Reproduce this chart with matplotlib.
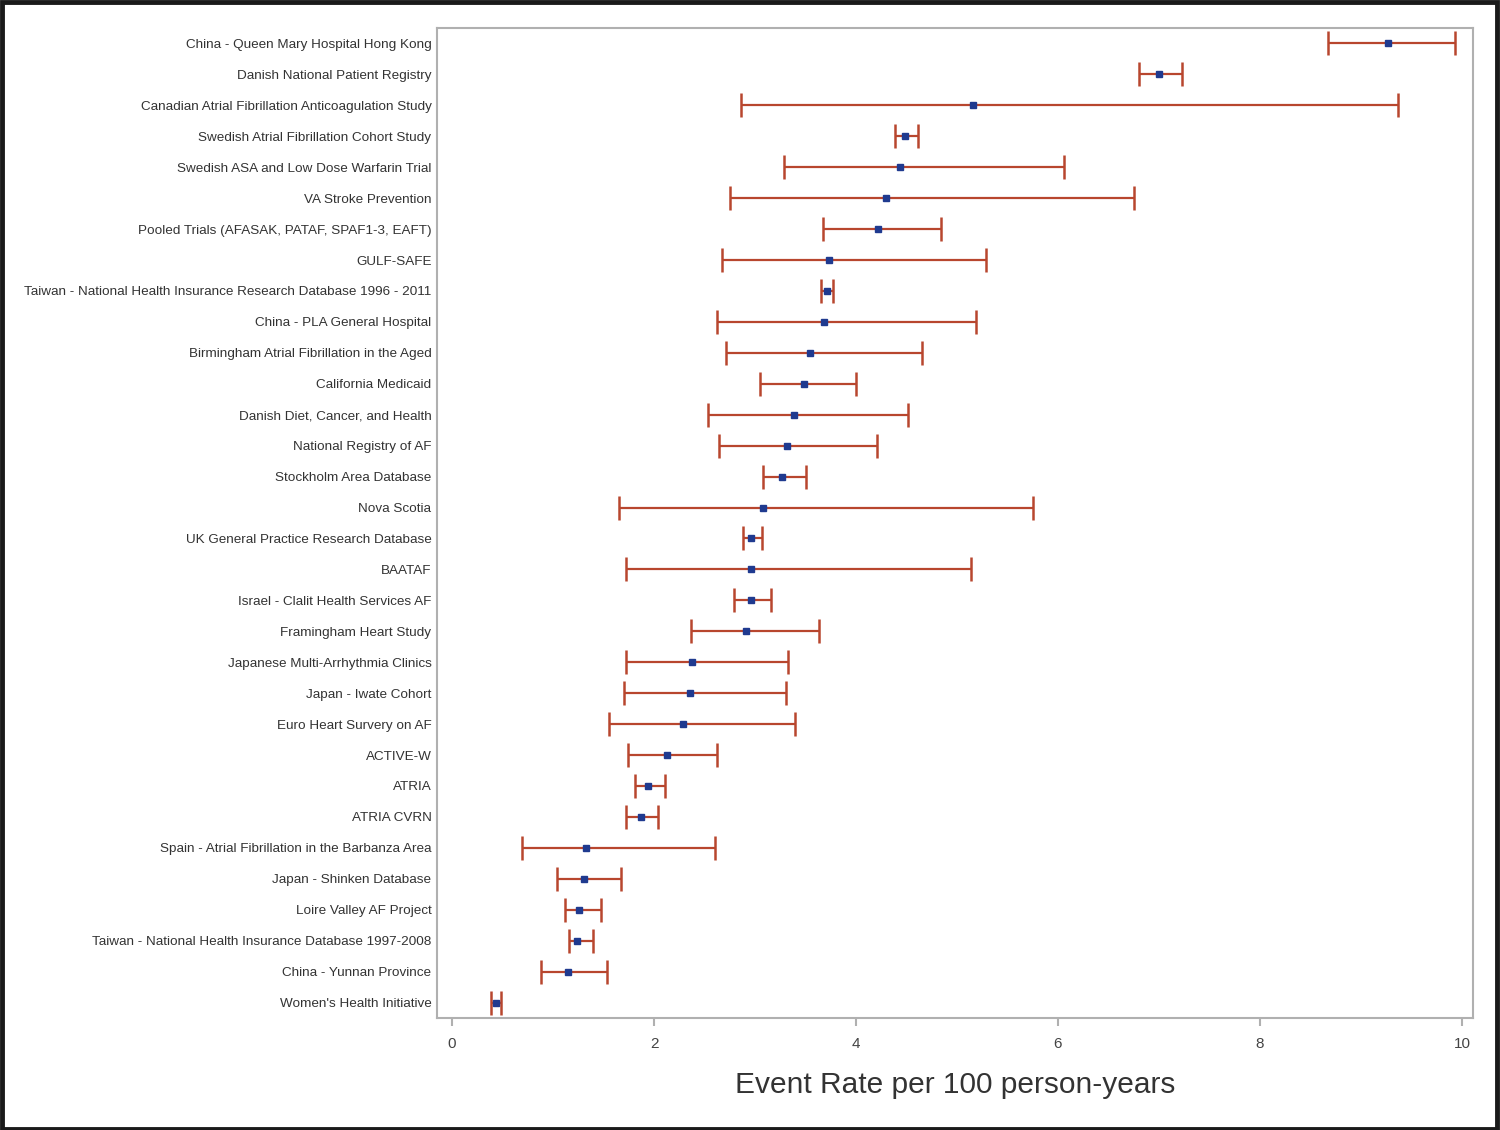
import matplotlib.pyplot as plt
from matplotlib.patches import Rectangle

# studies, top to bottom
studies = [
    "China - Queen Mary Hospital Hong Kong",
    "Danish National Patient Registry",
    "Canadian Atrial Fibrillation Anticoagulation Study",
    "Swedish Atrial Fibrillation Cohort Study",
    "Swedish ASA and Low Dose Warfarin Trial",
    "VA Stroke Prevention",
    "Pooled Trials (AFASAK, PATAF, SPAF1-3, EAFT)",
    "GULF-SAFE",
    "Taiwan - National Health Insurance Research Database 1996 - 2011",
    "China - PLA General Hospital",
    "Birmingham Atrial Fibrillation in the Aged",
    "California Medicaid",
    "Danish Diet, Cancer, and Health",
    "National Registry of AF",
    "Stockholm Area Database",
    "Nova Scotia",
    "UK General Practice Research Database",
    "BAATAF",
    "Israel - Clalit Health Services AF",
    "Framingham Heart Study",
    "Japanese Multi-Arrhythmia Clinics",
    "Japan - Iwate Cohort",
    "Euro Heart Survery on AF",
    "ACTIVE-W",
    "ATRIA",
    "ATRIA CVRN",
    "Spain - Atrial Fibrillation in the Barbanza Area",
    "Japan - Shinken Database",
    "Loire Valley AF Project",
    "Taiwan - National Health Insurance Database 1997-2008",
    "China - Yunnan Province",
    "Women's Health Initiative",
]

rate = [9.27, 7.00, 5.16, 4.49, 4.44, 4.30, 4.22, 3.73, 3.71, 3.68, 3.54,
        3.48, 3.39, 3.32, 3.27, 3.08, 2.96, 2.96, 2.96, 2.91, 2.38, 2.36,
        2.29, 2.13, 1.94, 1.87, 1.33, 1.31, 1.26, 1.24, 1.15, 0.43]
lower = [8.67, 6.80, 2.86, 4.39, 3.29, 2.75, 3.67, 2.67, 3.65, 2.62, 2.71,
         3.05, 2.53, 2.64, 3.08, 1.65, 2.88, 1.72, 2.79, 2.37, 1.72, 1.70,
         1.55, 1.74, 1.81, 1.72, 0.69, 1.04, 1.12, 1.16, 0.88, 0.39]
upper = [9.93, 7.23, 9.37, 4.61, 6.06, 6.75, 4.84, 5.29, 3.77, 5.19, 4.65,
         4.00, 4.51, 4.21, 3.50, 5.75, 3.07, 5.14, 3.16, 3.63, 3.33, 3.31,
         3.40, 2.62, 2.11, 2.04, 2.60, 1.67, 1.47, 1.40, 1.53, 0.48]

xticks = [0, 2, 4, 6, 8, 10]

plt.rcParams['font.family'] = ['Liberation Sans', 'DejaVu Sans']

fig = plt.figure(figsize=(15, 11.3), dpi=100)
ax = fig.add_axes([0.2913, 0.0991, 0.6907, 0.8761])

ypos = list(range(len(studies)))
err_lo = [r - l for r, l in zip(rate, lower)]
err_hi = [u - r for r, u in zip(rate, upper)]

ax.errorbar(rate, ypos, xerr=[err_lo, err_hi], fmt='none', ecolor='#b8462e',
            elinewidth=1.6, capsize=8.5, capthick=1.8, zorder=2)
ax.plot(rate, ypos, 's', color='#1f3a8f', markersize=5, zorder=3)

ax.set_ylim(len(studies) - 0.5, -0.5)
ax.set_xlim(-0.15, 10.11)
ax.set_yticks(ypos)
ax.set_yticklabels(studies, fontsize=9.7, color='#333333')
ax.tick_params(axis='y', length=0, pad=4)
ax.set_xticks(xticks)
ax.set_xticklabels([str(t) for t in xticks], fontsize=11, color='#444444')
ax.tick_params(axis='x', length=6, color='#b0b0b0', width=1.5, pad=8)

for s in ax.spines.values():
    s.set_color('#b0b0b0')
    s.set_linewidth(1.5)

ax.set_xlabel("Event Rate per 100 person-years", fontsize=21.5, color='#333333', labelpad=14)

# outer black frame
fig.patches.append(Rectangle((0.001, 0.001), 0.997, 0.997, transform=fig.transFigure,
                             fill=False, edgecolor='#1a1a1a', linewidth=3.5))

fig.savefig("out.png", dpi=100)
